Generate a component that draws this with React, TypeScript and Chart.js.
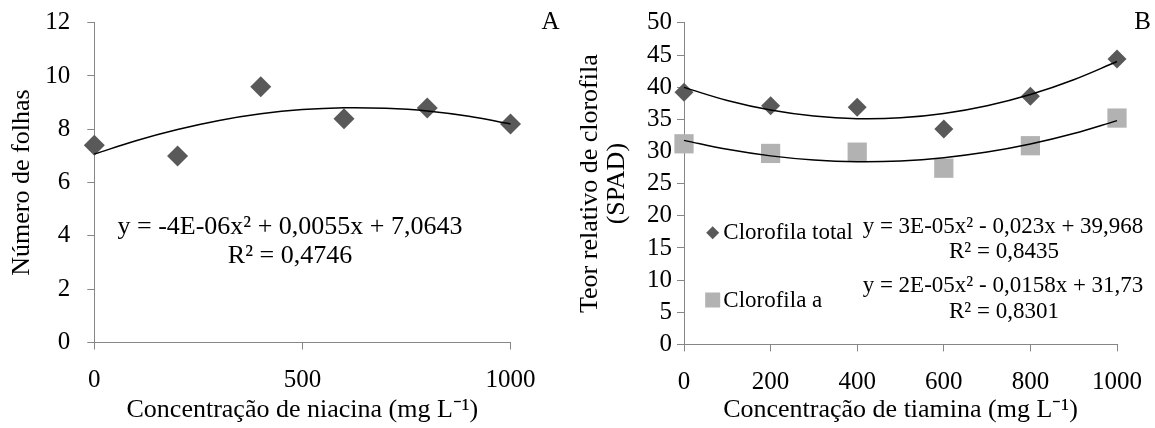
import React, { useEffect, useRef } from "react";
import { Chart, registerables } from "chart.js";

Chart.register(...registerables);

const SERIF = "'Liberation Serif', 'Times New Roman', Times, serif";
const AXIS_GRAY = "#868686";
const DARK = "#595959";
const LIGHT = "#b2b2b2";

// ---------- Panel A data ----------
const NIACINA_DOSES = [0, 200, 400, 600, 800, 1000];
const NUMERO_FOLHAS = [7.4, 7.0, 9.6, 8.4, 8.8, 8.2];
const NIACINA_TREND_X = [0, 100, 200, 300, 400, 500, 600, 700, 800, 900, 1000];
const NUMERO_FOLHAS_TREND = [7.07, 7.57, 7.99, 8.33, 8.58, 8.74, 8.81, 8.79, 8.69, 8.49, 8.2];
const A_X_TICKS = [0, 500, 1000];
const A_Y_TICKS = [0, 2, 4, 6, 8, 10, 12];
const A_X_TITLE = "Concentração de niacina (mg L⁻¹)";
const A_Y_TITLE = "Número de folhas";
const A_EQUATION = ["y = -4E-06x² + 0,0055x + 7,0643", "R² = 0,4746"];
const A_LABEL = "A";

// ---------- Panel B data ----------
const TIAMINA_DOSES = [0, 200, 400, 600, 800, 1000];
const CLOROFILA_TOTAL = [39.2, 37.1, 36.9, 33.5, 38.6, 44.4];
const CLOROFILA_A = [31.2, 29.7, 29.9, 27.4, 30.9, 35.2];
const TIAMINA_TREND_X = [0, 100, 200, 300, 400, 500, 600, 700, 800, 900, 1000];
const CLOROFILA_TOTAL_TREND = [39.97, 37.94, 36.45, 35.51, 35.1, 35.23, 35.91, 37.12, 38.87, 41.17, 44.0];
const CLOROFILA_A_TREND = [31.73, 30.34, 29.32, 28.68, 28.42, 28.54, 29.04, 29.91, 31.16, 32.79, 34.8];
const B_X_TICKS = [0, 200, 400, 600, 800, 1000];
const B_Y_TICKS = [0, 5, 10, 15, 20, 25, 30, 35, 40, 45, 50];
const B_X_TITLE = "Concentração de tiamina (mg L⁻¹)";
const B_Y_TITLE = ["Teor relativo de clorofila", "(SPAD)"];
const SERIES_NAMES = ["Clorofila total", "Clorofila a"];
const B_EQ_TOTAL = ["y = 3E-05x² - 0,023x + 39,968", "R² = 0,8435"];
const B_EQ_A = ["y = 2E-05x² - 0,0158x + 31,73", "R² = 0,8301"];
const B_LABEL = "B";

const toPoints = (xs: number[], ys: number[]) => xs.map((x, i) => ({ x, y: ys[i] }));

function makeScale(
  min: number,
  max: number,
  tickValues: number[],
  extra: {
    title: string | string[];
    titlePadding: any;
    titleLineHeight?: number;
    tickPadding: number;
    size: number;
    horizontal: boolean;
  }
) {
  return {
    type: "linear",
    min,
    max,
    afterBuildTicks: (s: any) => {
      s.ticks = tickValues.map((v) => ({ value: v }));
    },
    grid: {
      display: true,
      drawOnChartArea: false,
      drawTicks: true,
      tickLength: 7,
      color: AXIS_GRAY,
      lineWidth: 1,
    },
    border: { display: true, color: AXIS_GRAY, width: 1 },
    ticks: {
      color: "#000",
      font: { family: SERIF, size: 25 },
      padding: extra.tickPadding,
      maxRotation: 0,
      autoSkip: false,
      callback: (v: any) => String(v),
    },
    title: {
      display: true,
      text: extra.title,
      color: "#000",
      font: { family: SERIF, size: 26, lineHeight: extra.titleLineHeight ?? 1.2 },
      padding: extra.titlePadding,
    },
    afterFit: (s: any) => {
      if (extra.horizontal) s.height = extra.size;
      else s.width = extra.size;
      s.paddingTop = 0;
      s.paddingBottom = 0;
      s.paddingLeft = 0;
      s.paddingRight = 0;
    },
  };
}

const panelAText = {
  id: "panelAText",
  afterDraw(chart: any) {
    const ctx = chart.ctx as CanvasRenderingContext2D;
    ctx.save();
    ctx.fillStyle = "#000";
    ctx.textAlign = "center";
    ctx.textBaseline = "alphabetic";
    ctx.font = `26px ${SERIF}`;
    ctx.fillText(A_EQUATION[0], 290, 234);
    ctx.fillText(A_EQUATION[1], 290, 263);
    ctx.font = `25px ${SERIF}`;
    ctx.fillText(A_LABEL, 550.5, 28.5);
    ctx.restore();
  },
};

const panelBText = {
  id: "panelBText",
  afterDraw(chart: any) {
    const ctx = chart.ctx as CanvasRenderingContext2D;
    ctx.save();
    // legend markers
    const mx = 142.7;
    ctx.fillStyle = DARK;
    const r = 6.5;
    const dy = 232.7;
    ctx.beginPath();
    ctx.moveTo(mx - r, dy);
    ctx.lineTo(mx, dy - r);
    ctx.lineTo(mx + r, dy);
    ctx.lineTo(mx, dy + r);
    ctx.closePath();
    ctx.fill();
    ctx.fillStyle = LIGHT;
    ctx.fillRect(mx - 7.5, 300 - 7.5, 15, 15);
    // legend text
    ctx.fillStyle = "#000";
    ctx.font = `23px ${SERIF}`;
    ctx.textAlign = "left";
    ctx.textBaseline = "alphabetic";
    ctx.fillText(SERIES_NAMES[0], 153.3, 239);
    ctx.fillText(SERIES_NAMES[1], 153.3, 306.7);
    // equations
    ctx.textAlign = "center";
    ctx.fillText(B_EQ_TOTAL[0], 433, 233);
    ctx.fillText(B_EQ_TOTAL[1], 434, 258);
    ctx.fillText(B_EQ_A[0], 433, 292);
    ctx.fillText(B_EQ_A[1], 434, 317.5);
    ctx.font = `25px ${SERIF}`;
    ctx.fillText(B_LABEL, 572.5, 28.5);
    ctx.restore();
  },
};

function configA(): any {
  return {
    type: "scatter",
    data: {
      datasets: [
        {
          label: "Tendência",
          data: toPoints(NIACINA_TREND_X, NUMERO_FOLHAS_TREND),
          showLine: true,
          pointRadius: 0,
          borderColor: "#000",
          borderWidth: 1.5,
          tension: 0.4,
          fill: false,
          clip: false,
        },
        {
          label: A_Y_TITLE,
          data: toPoints(NIACINA_DOSES, NUMERO_FOLHAS),
          showLine: false,
          pointStyle: "rectRot",
          pointRadius: 10.5,
          pointHoverRadius: 10.5,
          backgroundColor: DARK,
          borderWidth: 0,
          clip: false,
        },
      ],
    },
    options: {
      responsive: false,
      animation: false,
      events: [],
      layout: { padding: { left: 0, right: 59.5, top: 22.7, bottom: 0 } },
      plugins: { legend: { display: false }, tooltip: { enabled: false } },
      scales: {
        x: makeScale(0, 1000, A_X_TICKS, {
          title: A_X_TITLE,
          titlePadding: { top: 0, bottom: 2.4 },
          tickPadding: 16,
          size: 85.5,
          horizontal: true,
        }),
        y: makeScale(0, 12, A_Y_TICKS, {
          title: A_Y_TITLE,
          titlePadding: { top: 6.4, bottom: 0 },
          tickPadding: 17,
          size: 94.3,
          horizontal: false,
        }),
      },
    },
    plugins: [panelAText],
  };
}

function configB(): any {
  return {
    type: "scatter",
    data: {
      datasets: [
        {
          label: "Tendência total",
          data: toPoints(TIAMINA_TREND_X, CLOROFILA_TOTAL_TREND),
          showLine: true,
          pointRadius: 0,
          borderColor: "#000",
          borderWidth: 1.5,
          tension: 0.4,
          fill: false,
          clip: false,
        },
        {
          label: "Tendência a",
          data: toPoints(TIAMINA_TREND_X, CLOROFILA_A_TREND),
          showLine: true,
          pointRadius: 0,
          borderColor: "#000",
          borderWidth: 1.5,
          tension: 0.4,
          fill: false,
          clip: false,
        },
        {
          label: SERIES_NAMES[0],
          data: toPoints(TIAMINA_DOSES, CLOROFILA_TOTAL),
          showLine: false,
          pointStyle: "rectRot",
          pointRadius: 9.5,
          pointHoverRadius: 9.5,
          backgroundColor: DARK,
          borderWidth: 0,
          clip: false,
        },
        {
          label: SERIES_NAMES[1],
          data: toPoints(TIAMINA_DOSES, CLOROFILA_A),
          showLine: false,
          pointStyle: "rect",
          pointRadius: 13.6,
          pointHoverRadius: 13.6,
          backgroundColor: LIGHT,
          borderWidth: 0,
          clip: false,
        },
      ],
    },
    options: {
      responsive: false,
      animation: false,
      events: [],
      layout: { padding: { left: 0, right: 38, top: 22.9, bottom: 0 } },
      plugins: { legend: { display: false }, tooltip: { enabled: false } },
      scales: {
        x: makeScale(0, 1000, B_X_TICKS, {
          title: B_X_TITLE,
          titlePadding: { top: 0, bottom: 2.4 },
          tickPadding: 16,
          size: 83.6,
          horizontal: true,
        }),
        y: makeScale(0, 50, B_Y_TICKS, {
          title: B_Y_TITLE,
          titlePadding: { top: 6.5, bottom: 0 },
          titleLineHeight: 27 / 26,
          tickPadding: 5,
          size: 114,
          horizontal: false,
        }),
      },
    },
    plugins: [panelBText],
  };
}

function PanelChart({ width, left, makeConfig }: { width: number; left: number; makeConfig: () => any }) {
  const ref = useRef<HTMLCanvasElement | null>(null);
  useEffect(() => {
    if (!ref.current) return;
    const chart = new Chart(ref.current, makeConfig());
    return () => chart.destroy();
  }, [makeConfig]);
  return (
    <canvas
      ref={ref}
      width={width}
      height={428}
      style={{ position: "absolute", left, top: 0, width, height: 428 }}
    />
  );
}

export default function App() {
  return (
    <div
      style={{
        position: "absolute",
        left: 0,
        top: 0,
        width: 1155,
        height: 428,
        background: "#fff",
        overflow: "hidden",
      }}
    >
      <PanelChart width={570} left={0} makeConfig={configA} />
      <PanelChart width={585} left={570} makeConfig={configB} />
    </div>
  );
}
